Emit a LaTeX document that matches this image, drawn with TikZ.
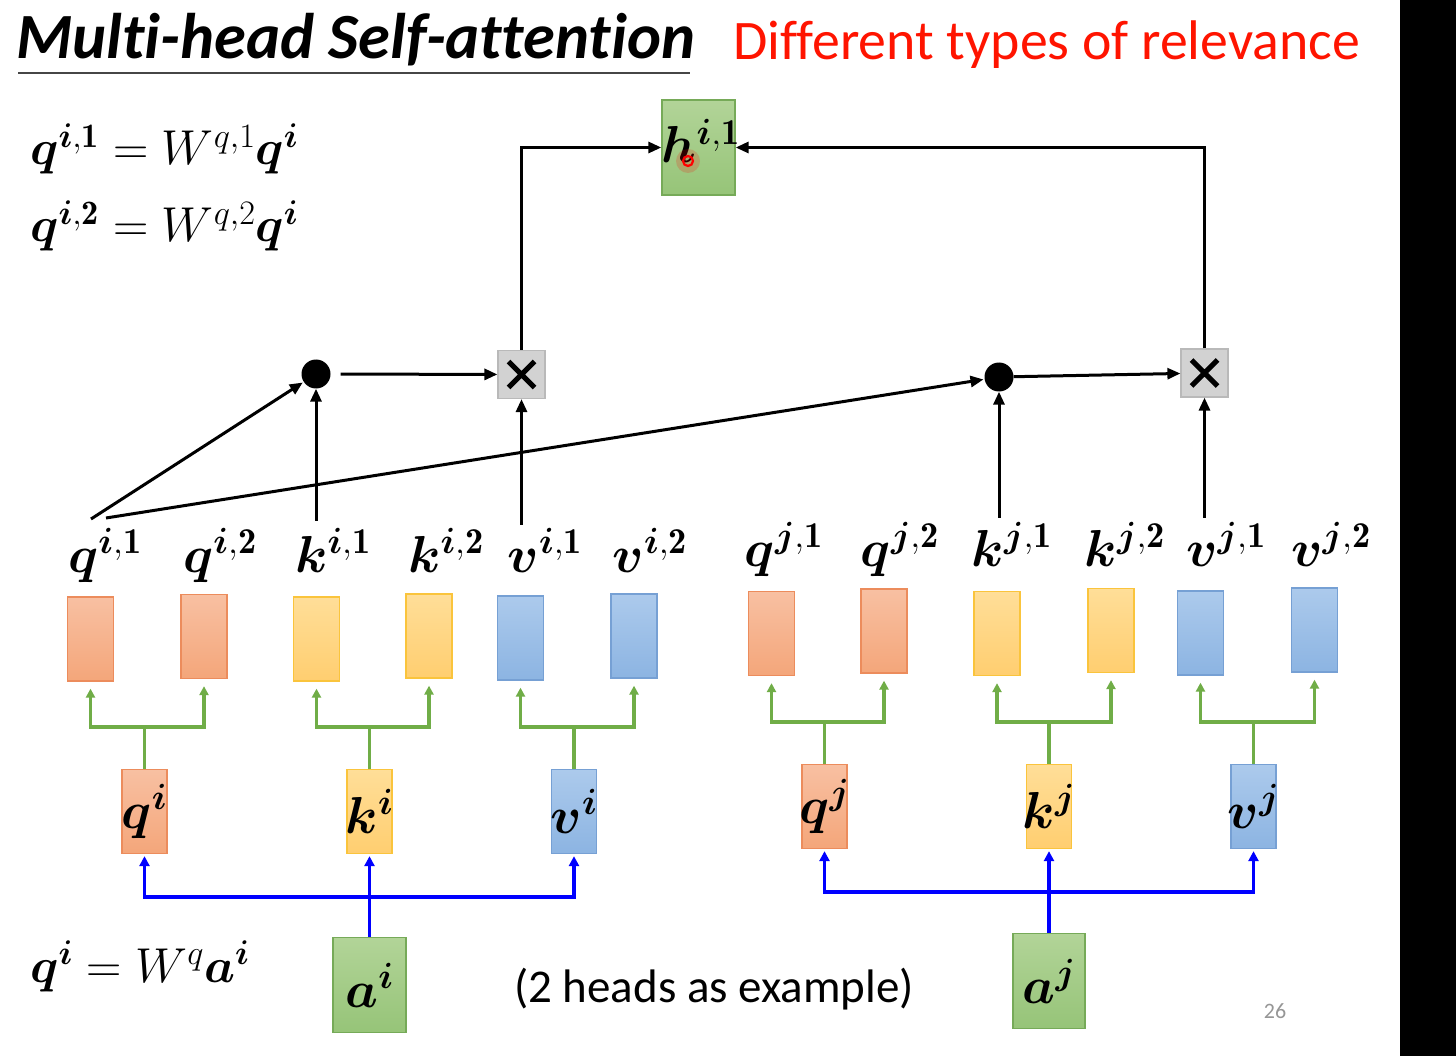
\RequirePackage{fix-cm}
\documentclass[tikz,border=0pt]{standalone}
\usepackage{fontspec}
\usepackage{amsmath}
\usepackage{bm}
\newfontfamily\calibri[Ligatures=NoCommon]{Carlito}
\usetikzlibrary{arrows.meta}
\definecolor{ortop}{RGB}{248,192,162}
\definecolor{orbot}{RGB}{244,166,122}
\definecolor{orline}{RGB}{236,140,92}
\definecolor{yltop}{RGB}{255,222,152}
\definecolor{ylbot}{RGB}{255,206,112}
\definecolor{ylline}{RGB}{250,196,60}
\definecolor{bltop}{RGB}{172,202,236}
\definecolor{blbot}{RGB}{140,180,226}
\definecolor{blline}{RGB}{118,160,212}
\definecolor{grtop}{RGB}{178,212,152}
\definecolor{grbot}{RGB}{150,196,120}
\definecolor{grline}{RGB}{118,170,88}
\definecolor{grarrow}{RGB}{112,173,71}
\definecolor{bluearrow}{RGB}{0,0,255}
\definecolor{titlered}{RGB}{255,20,0}
\definecolor{ruleclr}{RGB}{70,70,70}
\definecolor{xline}{RGB}{185,185,185}
\definecolor{xfill}{RGB}{210,210,210}
\definecolor{pagegray}{RGB}{150,150,150}
\begin{document}
\begin{tikzpicture}[x=1pt,y=-1pt,
  vec/.style={line width=1.3pt, inner sep=0pt, minimum width=46pt, minimum height=84pt},
  orbox/.style={vec, draw=orline, top color=ortop, bottom color=orbot},
  ylbox/.style={vec, draw=ylline, top color=yltop, bottom color=ylbot},
  blbox/.style={vec, draw=blline, top color=bltop, bottom color=blbot},
  grbox/.style={vec, draw=grline, top color=grtop, bottom color=grbot, minimum width=73pt, minimum height=95pt},
  xbox/.style={draw=xline, fill=xfill, line width=1.2pt, minimum width=47pt, minimum height=48pt, inner sep=0pt},
  dotnode/.style={circle, fill=black, minimum size=29pt, inner sep=0pt},
  mlab/.style={font=\fontsize{52}{58}\selectfont, inner sep=0pt, anchor=base},
  mbox/.style={font=\fontsize{52}{58}\selectfont},
  eqn/.style={anchor=base west, inner sep=0pt, font=\fontsize{49}{56}\selectfont},
  bar/.style={line width=3pt, -{Triangle[length=13pt,width=11pt]}},
  gl/.style={draw=grarrow, line width=3.5pt, -{Triangle[length=9pt,width=9pt]}, shorten >=7pt},
  bl/.style={draw=bluearrow, line width=3.8pt, -{Triangle[length=10pt,width=10pt]}, shorten >=2pt},
]
\useasboundingbox (0,0) rectangle (1456,1056);
\fill[white] (0,0) rectangle (1400,1056);
\fill[black] (1400,0) rectangle (1456,1056);

% titles
\node[anchor=base west, inner sep=0pt, font=\calibri\bfseries\itshape\fontsize{64.5}{70}\selectfont] (title) at (16,59) {Multi-head Self-attention};
\draw[line width=2pt, ruleclr] (18,73) -- (690,73);
\node[anchor=base west, inner sep=0pt, text=titlered, font=\calibri\fontsize{55.8}{60}\selectfont] (subtitle) at (733,60) {Different types of relevance};

% equations
\node[eqn] (eq1) at (30,165) {$\bm{q}^{\bm{i},\mathbf{1}}=W^{q,1}\bm{q}^{\bm{i}}$};
\node[eqn] (eq2) at (30,242) {$\bm{q}^{\bm{i},\mathbf{2}}=W^{q,2}\bm{q}^{\bm{i}}$};
\node[eqn] (eq3) at (30,982) {$\bm{q}^{\bm{i}}=W^{q}\bm{a}^{\bm{i}}$};

% output box
\node[grbox] (h) at (698.5,147.5) {};
\node[mlab] (hl) at (701,163) {$\bm{h}^{\bm{i},\mathbf{1}}$};
\fill[red, opacity=0.18] (688,161) circle (12pt);
\draw[red, line width=2.2pt] (688,161) circle (5pt);

% attention operators
\node[dotnode] (d1) at (316,374) {};
\node[dotnode] (d2) at (999,377) {};
\node[xbox] (x1) at (521.5,374.5) {};
\node[xbox] (x2) at (1204.5,373) {};
\draw[line width=5pt] ([shift={(-13,-13)}]x1.center) -- ([shift={(13,13)}]x1.center) ([shift={(-13,13)}]x1.center) -- ([shift={(13,-13)}]x1.center);
\draw[line width=5pt] ([shift={(-13,-13)}]x2.center) -- ([shift={(13,13)}]x2.center) ([shift={(-13,13)}]x2.center) -- ([shift={(13,-13)}]x2.center);

% head-level vectors
\node[orbox] (qi1) at (90.5,639) {};
\node[orbox] (qi2) at (204,636.5) {};
\node[ylbox] (ki1) at (316.5,639) {};
\node[ylbox] (ki2) at (429,636) {};
\node[blbox] (vi1) at (520.5,638) {};
\node[blbox] (vi2) at (634,636) {};
\node[orbox] (qj1) at (771.5,633.5) {};
\node[orbox] (qj2) at (884,631) {};
\node[ylbox] (kj1) at (997,633.5) {};
\node[ylbox] (kj2) at (1111,630.5) {};
\node[blbox] (vj1) at (1200.5,633) {};
\node[blbox] (vj2) at (1314.5,630) {};

% labels
\node[mlab] (qi1l) at (105,572) {$\bm{q}^{\bm{i},\mathbf{1}}$};
\node[mlab] (qi2l) at (220,572) {$\bm{q}^{\bm{i},\mathbf{2}}$};
\node[mlab] (ki1l) at (333,572) {$\bm{k}^{\bm{i},\mathbf{1}}$};
\node[mlab] (ki2l) at (446,572) {$\bm{k}^{\bm{i},\mathbf{2}}$};
\node[mlab] (vi1l) at (545,572) {$\bm{v}^{\bm{i},\mathbf{1}}$};
\node[mlab] (vi2l) at (650,572) {$\bm{v}^{\bm{i},\mathbf{2}}$};
\node[mlab] (qj1l) at (784,566) {$\bm{q}^{\bm{j},\mathbf{1}}$};
\node[mlab] (qj2l) at (900,566) {$\bm{q}^{\bm{j},\mathbf{2}}$};
\node[mlab] (kj1l) at (1012,566) {$\bm{k}^{\bm{j},\mathbf{1}}$};
\node[mlab] (kj2l) at (1125,566) {$\bm{k}^{\bm{j},\mathbf{2}}$};
\node[mlab] (vj1l) at (1226,566) {$\bm{v}^{\bm{j},\mathbf{1}}$};
\node[mlab] (vj2l) at (1331,566) {$\bm{v}^{\bm{j},\mathbf{2}}$};

% per-token q, k, v
\node[orbox, minimum width=45pt] (qim) at (144.5,811.5) {};
\node[ylbox, minimum width=45pt] (kim) at (369.5,811.5) {};
\node[blbox, minimum width=45pt] (vim) at (574,811.5) {};
\node[orbox, minimum width=45pt] (qjm) at (824.5,806.5) {};
\node[ylbox, minimum width=45pt] (kjm) at (1049,806.5) {};
\node[blbox, minimum width=45pt] (vjm) at (1253.5,806.5) {};
\node[mbox] at (qim) {$\bm{q}^{\bm{i}}$};
\node[mbox] at (kim) {$\bm{k}^{\bm{i}}$};
\node[mbox] at (vim) {$\bm{v}^{\bm{i}}$};
\node[mbox] at (qjm) {$\bm{q}^{\bm{j}}$};
\node[mbox] at (kjm) {$\bm{k}^{\bm{j}}$};
\node[mbox] at (vjm) {$\bm{v}^{\bm{j}}$};

% inputs
\node[grbox] (ai) at (369.5,985) {};
\node[grbox, minimum width=72pt] (aj) at (1049,981) {};
\node[mbox] at (ai) {$\bm{a}^{\bm{i}}$};
\node[mbox] at (aj) {$\bm{a}^{\bm{j}}$};

% texts
\node[anchor=base, inner sep=0pt, font=\calibri\fontsize{47}{52}\selectfont] (note) at (714,1002) {(2 heads as example)};
\node[anchor=base, inner sep=0pt, text=pagegray, font=\calibri\fontsize{22}{26}\selectfont] (page) at (1275,1018) {26};

% blue connectors
\draw[bl] (ai.north) -- ++(0,-40) -| (qim.south);
\draw[bl] (ai.north) -- ++(0,-40) -| (vim.south);
\draw[bl] (ai.north) -- (kim.south);
\draw[bl] (aj.north) -- ++(0,-41) -| (qjm.south);
\draw[bl] (aj.north) -- ++(0,-41) -| (vjm.south);
\draw[bl] (aj.north) -- (kjm.south);

% green connectors
\foreach \m/\a/\b in {qim/qi1/qi2, kim/ki1/ki2, vim/vi1/vi2, qjm/qj1/qj2, kjm/kj1/kj2, vjm/vj1/vj2}{
  \draw[gl] (\m.north) -- ++(0,-42) -| (\a.south);
  \draw[gl] (\m.north) -- ++(0,-42) -| (\b.south);
}

% black connectors
\coordinate (qs1) at (91,519);
\coordinate (qs2) at (106,518);
\draw[bar, shorten >=1pt] (qs1) -- (d1);
\draw[bar, shorten >=1pt] (qs2) -- (d2);
\draw[bar, shorten <=7pt] (ki1l.north -| d1) -- (d1);
\draw[bar, shorten <=4pt] (kj1l.north -| d2) -- (d2);
\draw[bar, shorten <=3pt] (vi1l.north -| x1) -- (x1);
\draw[bar, shorten <=4pt] (vj1l.north -| x2) -- (x2);
\draw[bar, shorten <=10pt] (d1) -- (x1);
\draw[bar] (d2) -- (x2);
\draw[bar] (x1.north) |- (h.west);
\draw[bar] (x2.north) |- (h.east);
\end{tikzpicture}
\end{document}
